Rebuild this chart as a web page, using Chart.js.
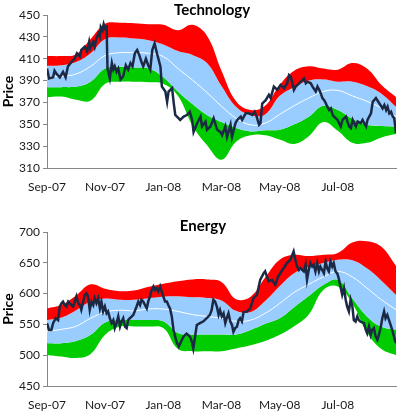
<!DOCTYPE html>
<html>
<head>
<meta charset="utf-8">
<script src="https://cdn.jsdelivr.net/npm/chart.js@4.4.1/dist/chart.umd.min.js"></script>
<style>
  body { margin: 0; background: #fff; }
  canvas { position: absolute; left: 0; }
  #tech { top: 0; }
  #energy { top: 200px; }
</style>
</head>
<body>
<canvas id="tech" width="400" height="200"></canvas>
<canvas id="energy" width="400" height="213"></canvas>
<script>
// x values are months since Sep-07
const monthLabels = ['Sep-07', 'Nov-07', 'Jan-08', 'Mar-08', 'May-08', 'Jul-08'];
const bandMonths = [0, 0.5, 1, 1.5, 2, 2.5, 3, 3.5, 4, 4.5, 5, 5.5, 6, 6.5, 7, 7.5, 8, 8.5, 9, 9.5, 10, 10.5, 11, 11.5, 12];

// Technology bands
const techUpper2 = [412.5, 412.5, 414, 428, 442, 443, 442.5, 441.5, 441, 436, 441, 431, 399, 371, 363, 367, 386, 399, 403, 401, 400, 406, 401, 386, 375];
const techUpper1 = [403.5, 404, 407, 415, 428, 429.5, 428.5, 427, 423, 417, 413.5, 406, 385, 366, 358.5, 359, 376, 384, 390, 391, 389, 389, 385, 378, 366];
const techMiddle = [393.5, 394, 396, 403, 413, 415.5, 415.5, 415, 412, 401, 390.5, 379, 366.5, 355.5, 349.5, 351, 359, 367, 374, 380, 381, 376, 371, 365, 357];
const techLower1 = [384, 384, 384.5, 389, 401, 402.5, 402, 401, 393, 380, 368.5, 358.5, 352, 346.5, 343.5, 344.5, 345, 350, 357, 367, 363, 355, 349.5, 348.5, 348];
const techLower2 = [374.8, 375.4, 372.5, 371.5, 387, 389, 389, 388.5, 387, 376, 349, 331, 317.5, 334, 340, 340, 336, 332, 339, 352, 344, 333, 333, 338, 341];

const techPriceMonths = [0, 0.07, 0.21, 0.26, 0.32, 0.44, 0.55, 0.64, 0.72, 0.84, 0.95, 1.03, 1.13, 1.18, 1.3, 1.38, 1.45, 1.49, 1.59, 1.64,
  1.7, 1.77, 1.82, 1.85, 1.91, 1.95, 2, 2.05, 2.08, 2.16, 2.23, 2.28, 2.33, 2.39, 2.45, 2.53, 2.62, 2.71, 2.79, 2.87,
  2.94, 3.02, 3.1, 3.17, 3.25, 3.31, 3.4, 3.48, 3.55, 3.62, 3.7, 3.78, 3.9, 3.95, 4.07, 4.13, 4.18, 4.3, 4.36, 4.41,
  4.47, 4.58, 4.7, 4.81, 4.91, 4.99, 5.04, 5.16, 5.28, 5.33, 5.45, 5.5, 5.62, 5.73, 5.85, 5.96, 6.02, 6.13, 6.19, 6.31,
  6.36, 6.48, 6.54, 6.66, 6.71, 6.83, 6.94, 7.06, 7.14, 7.21, 7.29, 7.34, 7.4, 7.52, 7.63, 7.69, 7.8, 7.92, 8.03, 8.15,
  8.26, 8.32, 8.38, 8.44, 8.49, 8.55, 8.67, 8.78, 8.84, 8.9, 8.96, 9.07, 9.13, 9.24, 9.3, 9.36, 9.41, 9.47, 9.53, 9.59,
  9.64, 9.7, 9.76, 9.82, 9.87, 9.99, 10.1, 10.16, 10.28, 10.33, 10.39, 10.45, 10.51, 10.62, 10.68, 10.79, 10.85, 10.97, 11.02, 11.14,
  11.2, 11.31, 11.43, 11.54, 11.6, 11.66, 11.71, 11.77, 11.83, 11.89, 11.94, 12];
const techPrice = [401, 392, 393, 399, 396.5, 393, 398, 393, 403, 407, 410, 415, 412, 418, 421, 416.5, 425.5, 419.5, 425.5, 421,
  428.5, 433, 430, 439, 436, 441.5, 437.5, 439, 401, 392, 406, 400, 403, 398, 401, 391, 394, 404, 400, 406,
  403, 415, 418, 413.5, 407, 403, 410, 404, 400, 418, 424, 415, 403, 384.5, 380, 370.5, 380, 383, 369, 358.5,
  357, 354, 357, 358.5, 361.5, 354, 343, 351, 357, 348, 352.5, 345, 348, 355.5, 345, 343, 340, 348, 338.5, 349.5,
  338.5, 351, 354, 357, 354, 360, 360, 358.5, 361.5, 357, 349.5, 351, 369, 372, 377, 374, 384.5, 381.5, 386, 383,
  387.5, 395, 393.5, 387.5, 381.5, 384.5, 387.5, 390.5, 392, 387.5, 389, 387.5, 384.5, 380, 384.5, 381.5, 378.5, 374, 372, 369,
  366, 363, 364.5, 358.5, 357, 354, 348, 354, 357, 352.5, 348, 346.5, 354, 348, 352.5, 351, 354, 348, 354, 360,
  370.5, 374, 369, 364.5, 367.5, 363, 366, 360, 361.5, 357, 355.5, 342];

// Energy bands
const energyUpper2 = [576, 582, 597, 615, 608, 604, 605, 611, 616, 620, 623, 623, 619, 591, 595, 626, 655, 663, 661, 663, 666, 683, 685, 676, 645];
const energyUpper1 = [557, 561, 573, 587, 592, 590, 590, 592.5, 595, 595.5, 594, 593, 589, 572, 570, 588, 612, 633, 643, 649.5, 655, 654, 641, 621, 598];
const energyMiddle = [538.5, 542, 547, 560, 570, 573, 572, 575, 575, 571, 566, 563, 560, 555, 557, 568, 584, 602, 615, 627, 636, 627, 609, 590, 574];
const energyLower1 = [519.5, 519.5, 523, 533, 553, 557, 557, 557, 555, 536, 533.5, 533.5, 533.5, 533.5, 541, 551, 560, 578, 596, 614, 622.5, 592, 563, 546, 541];
const energyLower2 = [500.5, 498, 495.5, 502, 533, 546.5, 546.5, 546.5, 544, 510, 506.5, 506.5, 506.5, 511, 516, 523, 533, 547, 566, 606, 611.5, 584, 537, 510, 500];

const energyPriceMonths = [0, 0.07, 0.15, 0.21, 0.3, 0.38, 0.44, 0.5, 0.55, 0.61, 0.67, 0.73, 0.78, 0.84, 0.9, 0.95, 1.01, 1.07, 1.13, 1.18,
  1.3, 1.36, 1.41, 1.47, 1.53, 1.59, 1.64, 1.7, 1.76, 1.82, 1.87, 1.93, 1.99, 2.05, 2.1, 2.16, 2.22, 2.28, 2.33, 2.39,
  2.45, 2.51, 2.56, 2.62, 2.68, 2.74, 2.79, 2.85, 2.91, 2.97, 3.08, 3.14, 3.2, 3.25, 3.31, 3.37, 3.43, 3.48, 3.54, 3.6,
  3.66, 3.71, 3.77, 3.83, 3.89, 3.94, 4, 4.06, 4.12, 4.17, 4.23, 4.29, 4.35, 4.45, 4.53, 4.58, 4.64, 4.69, 4.75, 4.8,
  4.92, 4.98, 5.03, 5.09, 5.15, 5.26, 5.38, 5.49, 5.6, 5.66, 5.72, 5.78, 5.84, 5.9, 5.95, 6.01, 6.07, 6.13, 6.18, 6.24,
  6.3, 6.36, 6.41, 6.47, 6.53, 6.59, 6.64, 6.7, 6.76, 6.87, 6.99, 7.1, 7.22, 7.33, 7.45, 7.5, 7.56, 7.62, 7.74, 7.85,
  7.94, 8.02, 8.14, 8.25, 8.37, 8.48, 8.54, 8.6, 8.66, 8.71, 8.83, 8.89, 8.94, 9, 9.06, 9.12, 9.17, 9.23, 9.29, 9.35,
  9.4, 9.52, 9.58, 9.63, 9.69, 9.75, 9.81, 9.86, 9.92, 9.98, 10.03, 10.09, 10.15, 10.21, 10.27, 10.32, 10.38, 10.44, 10.5, 10.55,
  10.61, 10.67, 10.72, 10.78, 10.9, 10.96, 11.01, 11.07, 11.13, 11.18, 11.24, 11.3, 11.36, 11.41, 11.47, 11.53, 11.59, 11.64, 11.7, 11.76,
  11.87, 11.96, 12];
const energyPrice = [552, 541, 541, 552, 560, 557, 579, 584.5, 587, 581.5, 579, 587, 584.5, 581.5, 579, 587, 595.5, 584.5, 581.5, 573.5,
  598, 600.5, 595.5, 573.5, 587, 581.5, 592.5, 584.5, 592.5, 576, 587, 571, 579, 568, 571, 560, 552, 557, 544, 552,
  563, 546.5, 554.5, 560, 546.5, 544, 557, 560, 562.5, 565.5, 579, 587, 581.5, 590, 587, 581.5, 576, 587, 595.5, 606,
  611.5, 606, 609, 603.5, 611.5, 603.5, 595.5, 587, 587, 581.5, 576, 563, 541, 522, 514, 519, 525, 530, 533, 535,
  530, 522, 511, 530, 549, 552, 555, 560, 565.5, 573, 590, 587, 579, 565.5, 573, 563, 568, 552, 560, 568,
  555, 549, 538, 544, 546, 557, 560, 555, 570, 571, 576, 592.5, 598, 622, 633, 636, 628, 620, 622, 614,
  627, 633, 641.5, 649.5, 655, 668.5, 655, 644, 638.5, 641.5, 636, 647, 622.5, 638.5, 649.5, 644, 647, 636, 649.5, 636,
  644, 633, 652, 641.5, 636, 652, 644, 649.5, 636, 633, 625, 611.5, 598, 609, 590, 579, 571, 590, 579, 557,
  554.5, 563, 557, 554.5, 552, 541, 535.5, 546.5, 533, 541, 544, 530.5, 525, 533, 544, 560, 571, 560, 565.5, 557,
  541, 525, 519.5];

const redFill = '#ff0000';
const blueFill = '#99ccff';
const greenFill = '#00cc00';
const priceColor = '#1b2945';
const axisColor = '#868686';
const labelFont = { family: 'Lato', size: 12 };

function toPoints(xs, ys) {
  return xs.map((x, i) => ({ x: x, y: ys[i] }));
}

function band(values, fillTarget, color) {
  return {
    data: toPoints(bandMonths, values),
    borderWidth: 0,
    borderColor: 'rgba(0,0,0,0)',
    backgroundColor: color,
    fill: fillTarget,
    pointRadius: 0,
    tension: 0.4,
    order: 0
  };
}

// draws the panel title at a fixed spot
const panelTitle = {
  id: 'panelTitle',
  afterDraw(chart, args, opts) {
    const ctx = chart.ctx;
    ctx.save();
    ctx.font = 'bold 15px Lato';
    ctx.fillStyle = '#000';
    ctx.textAlign = 'center';
    ctx.textBaseline = 'middle';
    ctx.fillText(opts.text, opts.x, opts.y);
    ctx.restore();
  }
};

function drawPanel(id, cfg) {
  const datasets = [
    band(cfg.upper2, 1, redFill),
    band(cfg.upper1, 3, blueFill),
    {
      data: toPoints(bandMonths, cfg.middle),
      borderColor: '#ffffff',
      borderWidth: 1,
      fill: false,
      pointRadius: 0,
      tension: 0.4,
      order: -1
    },
    band(cfg.lower1, 4, greenFill),
    band(cfg.lower2, false, 'rgba(0,0,0,0)'),
    {
      data: toPoints(cfg.priceMonths, cfg.price),
      borderColor: priceColor,
      borderWidth: 2.5,
      fill: false,
      pointRadius: 0,
      tension: 0,
      order: -2
    }
  ];

  new Chart(document.getElementById(id), {
    type: 'line',
    data: { datasets: datasets },
    plugins: [panelTitle],
    options: {
      responsive: false,
      animation: false,
      events: [],
      layout: { padding: { top: cfg.padTop, right: 4, left: 0, bottom: 0 } },
      plugins: {
        legend: { display: false },
        tooltip: { enabled: false },
        panelTitle: { text: cfg.title, x: cfg.titleX, y: cfg.titleY }
      },
      scales: {
        x: {
          type: 'linear',
          min: 0,
          max: 12,
          border: { color: axisColor },
          grid: { display: true, drawOnChartArea: false, drawTicks: false },
          ticks: {
            stepSize: 2,
            autoSkip: false,
            maxRotation: 0,
            padding: 12,
            color: '#1a1a1a',
            font: labelFont,
            callback: v => monthLabels[v / 2]
          },
          afterFit: s => { s.height = cfg.xHeight; }
        },
        y: {
          min: cfg.yMin,
          max: cfg.yMax,
          border: { color: axisColor },
          grid: { drawOnChartArea: false, tickLength: 4, color: axisColor },
          ticks: { stepSize: cfg.yStep, padding: 3, color: '#1a1a1a', font: labelFont },
          title: {
            display: true,
            text: 'Price',
            color: '#000',
            font: { family: 'Lato', size: 14, weight: 'bold' },
            padding: 0
          },
          afterFit: s => { s.width = 47; }
        }
      }
    }
  });
}

drawPanel('tech', {
  title: 'Technology', titleX: 212, titleY: 10, padTop: 15, xHeight: 32,
  yMin: 310, yMax: 450, yStep: 20,
  upper2: techUpper2, upper1: techUpper1, middle: techMiddle, lower1: techLower1, lower2: techLower2,
  priceMonths: techPriceMonths, price: techPrice
});

drawPanel('energy', {
  title: 'Energy', titleX: 203, titleY: 26, padTop: 32, xHeight: 27,
  yMin: 450, yMax: 700, yStep: 50,
  upper2: energyUpper2, upper1: energyUpper1, middle: energyMiddle, lower1: energyLower1, lower2: energyLower2,
  priceMonths: energyPriceMonths, price: energyPrice
});
</script>
</body>
</html>
